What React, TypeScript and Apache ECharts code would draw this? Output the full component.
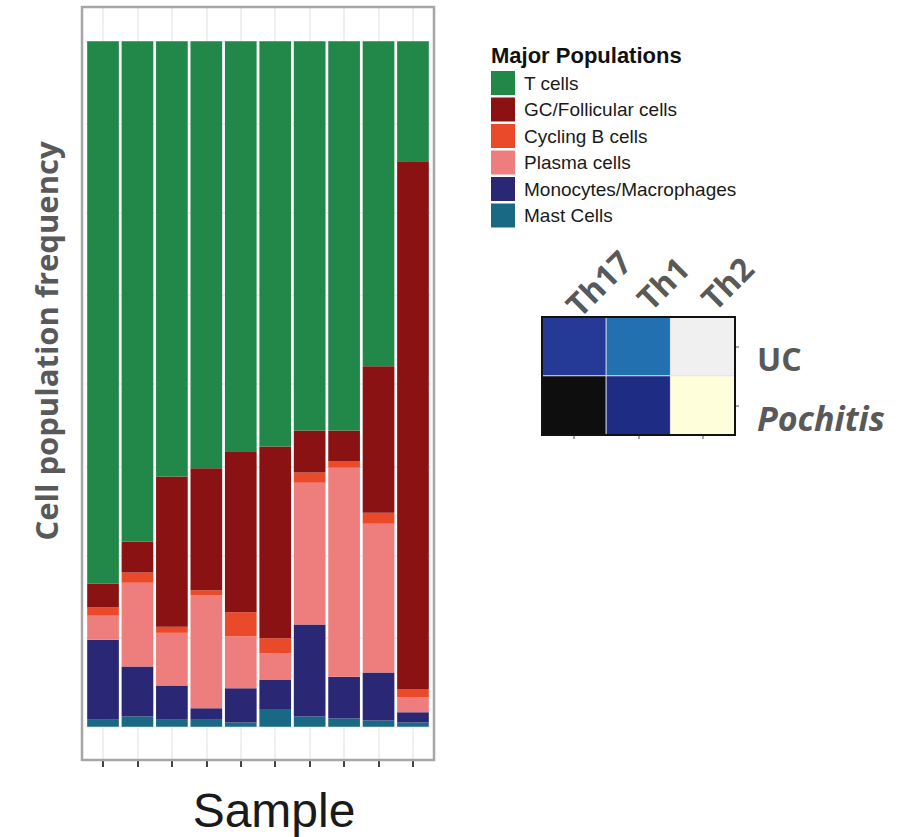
import React, { useEffect, useRef } from "react";
import * as echarts from "echarts";

const samples = ["S1", "S2", "S3", "S4", "S5", "S6", "S7", "S8", "S9", "S10"];
// fractions per sample (bottom -> top stack order)
const mastCells = [0.010, 0.015, 0.010, 0.010, 0.006, 0.026, 0.015, 0.012, 0.009, 0.006];
const monocytes = [0.117, 0.073, 0.050, 0.017, 0.050, 0.042, 0.134, 0.061, 0.070, 0.015];
const plasmaCells = [0.035, 0.122, 0.077, 0.165, 0.076, 0.039, 0.207, 0.305, 0.217, 0.022];
const cyclingB = [0.012, 0.015, 0.009, 0.007, 0.035, 0.022, 0.015, 0.009, 0.016, 0.012];
const gcFollicular = [0.035, 0.045, 0.219, 0.178, 0.235, 0.280, 0.061, 0.045, 0.214, 0.770];
const tCells = [0.791, 0.730, 0.635, 0.623, 0.598, 0.591, 0.568, 0.568, 0.474, 0.175];

const gridLevels = [0, 0.125, 0.25, 0.375, 0.5, 0.625, 0.75, 0.875, 1];

const legendOrder = [
  "T cells",
  "GC/Follicular cells",
  "Cycling B cells",
  "Plasma cells",
  "Monocytes/Macrophages",
  "Mast Cells",
];

const heatCols = ["Th17", "Th1", "Th2"];
const heatRows = ["UC", "Pochitis"];
// cell codes (row-major), each mapped to a shade below
const heatCodes = [
  [0, 1, 2],
  [3, 4, 5],
];
const heatShades = ["#253a97", "#2270b0", "#f0f0f0", "#0e0e0e", "#1e2c84", "#fffedb"];

const seriesDefs = [
  { name: "Mast Cells", data: mastCells, color: "#196984" },
  { name: "Monocytes/Macrophages", data: monocytes, color: "#2a2775" },
  { name: "Plasma cells", data: plasmaCells, color: "#ee7e7d" },
  { name: "Cycling B cells", data: cyclingB, color: "#ea4a2a" },
  { name: "GC/Follicular cells", data: gcFollicular, color: "#8b1212" },
  { name: "T cells", data: tCells, color: "#22884a" },
];

export default function App() {
  const ref = useRef<HTMLDivElement>(null);
  useEffect(() => {
    if (!ref.current) return;
    const chart = echarts.init(ref.current, null, { renderer: "svg" });
    const barSeries: any[] = seriesDefs.map((s) => ({
      type: "bar",
      name: s.name,
      stack: "total",
      xAxisIndex: 0,
      yAxisIndex: 0,
      barCategoryGap: "8%",
      data: s.data,
      itemStyle: { color: s.color },
      z: 2,
    }));
    const heatData: any[] = [];
    heatRows.forEach((r, ri) =>
      heatCols.forEach((c, ci) => {
        heatData.push([ci, ri, heatCodes[ri][ci]]);
      })
    );
    const heatSeriesIndex = 1 + barSeries.length;
    const option: any = {
      animation: false,
      backgroundColor: "#ffffff",
      title: {
        text: "Major Populations",
        left: 491,
        top: 44,
        padding: 0,
        textStyle: { fontSize: 22, fontWeight: "bold", color: "#111111", fontFamily: "Liberation Sans" },
      },
      legend: {
        orient: "vertical",
        left: 491,
        top: 71,
        padding: 0,
        itemWidth: 24,
        itemHeight: 24,
        itemGap: 2.5,
        icon: "rect",
        selectedMode: false,
        data: legendOrder,
        textStyle: { fontSize: 19, color: "#1a1a1a", fontFamily: "Liberation Sans", padding: [0, 0, 0, 4] },
      },
      visualMap: {
        type: "piecewise",
        show: false,
        seriesIndex: heatSeriesIndex,
        dimension: 2,
        pieces: heatShades.map((c, i) => ({ value: i, color: c })),
      },
      grid: [
        { left: 85.8, top: 7, width: 344.4, height: 754 },
        { left: 542, top: 317, width: 193, height: 118, show: true, borderColor: "#111111", borderWidth: 2, backgroundColor: "transparent", z: 3 },
      ],
      xAxis: [
        {
          gridIndex: 0,
          type: "category",
          data: samples,
          axisLine: { show: false, onZero: false },
          axisTick: { show: true, alignWithLabel: true, length: 6, lineStyle: { color: "#444444", width: 2 } },
          axisLabel: { show: false },
          splitLine: { show: false },
        },
        {
          gridIndex: 1,
          type: "category",
          position: "top",
          data: heatCols,
          axisLine: { show: false, onZero: false },
          axisTick: { show: false },
          axisLabel: { show: false },
        },
        {
          gridIndex: 1,
          type: "category",
          position: "bottom",
          data: heatCols,
          axisLine: { show: false, onZero: false },
          axisTick: { show: true, alignWithLabel: true, length: 4, lineStyle: { color: "#888888", width: 1.5 } },
          axisLabel: { show: false },
        },
      ],
      yAxis: [
        {
          gridIndex: 0,
          type: "value",
          min: -0.05,
          max: 1.05,
          axisLine: { show: false },
          axisTick: { show: false },
          axisLabel: { show: false },
          splitLine: { show: false },
        },
        {
          gridIndex: 1,
          type: "category",
          position: "right",
          inverse: true,
          data: heatRows,
          axisLine: { show: false, onZero: false },
          axisTick: { show: true, alignWithLabel: true, length: 4, lineStyle: { color: "#888888", width: 1.5 } },
          axisLabel: {
            margin: 22,
            padding: [24, 0, 0, 0],
            formatter: (v: string) => (v === "UC" ? `{a|${v}}` : `{b|${v}}`),
            rich: {
              a: { fontSize: 32, fontWeight: "bold", fontFamily: "Open Sans", color: "#595959" },
              b: { fontSize: 34, fontWeight: "bold", fontStyle: "italic", fontFamily: "Open Sans", color: "#595959" },
            },
          },
        },
      ],
      series: [
        {
          type: "line",
          name: "grid",
          xAxisIndex: 0,
          yAxisIndex: 0,
          data: [],
          z: 0,
          silent: true,
          markLine: {
            silent: true,
            symbol: "none",
            z: 0,
            label: { show: false },
            lineStyle: { color: "#ebebeb", width: 1.6, type: "solid" },
            data: [
              ...gridLevels.map((v) => ({ yAxis: v })),
              ...samples.map((s) => ({ xAxis: s })),
            ],
          },
        },
        ...barSeries,
        {
          type: "heatmap",
          xAxisIndex: 1,
          yAxisIndex: 1,
          data: heatData,
          itemStyle: { borderColor: "#e2e2e2", borderWidth: 1 },
        },
      ],
      graphic: [
        {
          id: "panelBorder",
          type: "rect",
          shape: { x: 82, y: 7, width: 352, height: 753 },
          style: { fill: "none", stroke: "#a6a6a6", lineWidth: 2.5 },
          z: 50,
        },
        {
          id: "yTitle",
          type: "text",
          x: 46,
          y: 341,
          rotation: Math.PI / 2,
          style: {
            text: "Cell population frequency",
            font: 'bold 31px "Open Sans"',
            fill: "#595959",
            align: "center",
            verticalAlign: "middle",
          },
        },
        {
          id: "xTitle",
          type: "text",
          x: 274,
          y: 810,
          style: {
            text: "Sample",
            font: '48px "Liberation Sans"',
            fill: "#1a1a1a",
            align: "center",
            verticalAlign: "middle",
          },
        },
      ],
    };
    chart.setOption(option);
    // rotated column labels of the heatmap, anchored on the axis positions
    const colLabels = heatCols.map((c, i) => {
      const px = chart.convertToPixel({ xAxisIndex: 1 }, c) as number;
      return {
        id: "heatCol" + i,
        type: "text",
        x: px + 24,
        y: 283,
        rotation: Math.PI / 4,
        style: {
          text: c,
          font: 'bold 32px "Open Sans"',
          fill: "#595959",
          align: "center",
          verticalAlign: "middle",
        },
      };
    });
    chart.setOption({ graphic: colLabels });
    return () => chart.dispose();
  }, []);
  return (
    <div
      ref={ref}
      style={{ position: "fixed", left: 0, top: 0, width: 916, height: 837 }}
    />
  );
}
